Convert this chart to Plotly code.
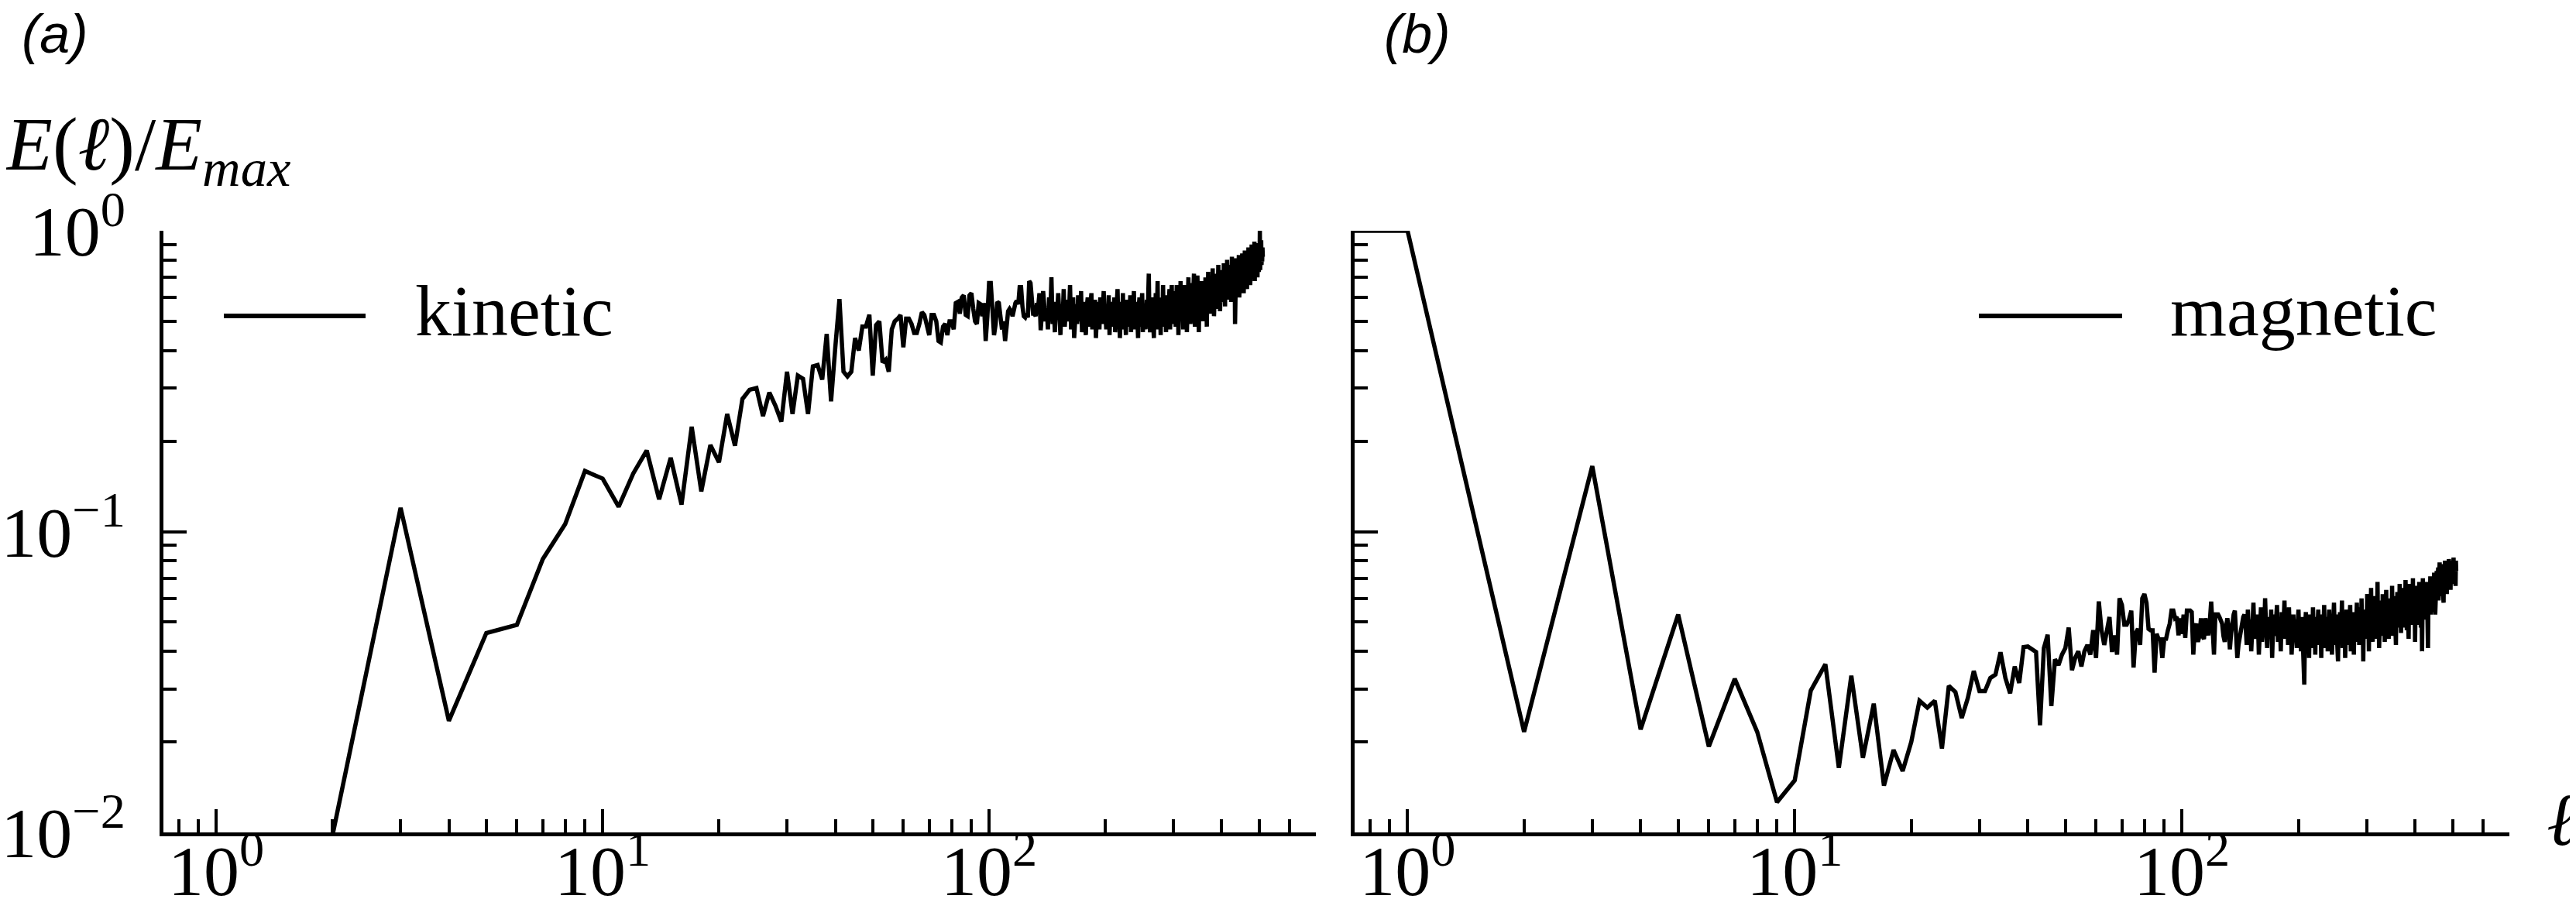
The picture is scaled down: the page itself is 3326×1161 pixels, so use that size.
import math
import plotly.graph_objects as go

# ---------------- data ----------------
ell = list(range(0, 512))

kinetic = (
    [0.0, 0.0001, 0.0098, 0.12, 0.0235, 0.046, 0.049, 0.081, 0.106, 0.159]
    + [0.150, 0.121, 0.156, 0.186, 0.128, 0.176, 0.123, 0.223, 0.136, 0.194]
    + [0.170, 0.246, 0.193, 0.276, 0.296, 0.300, 0.242, 0.290, 0.262, 0.232]
    + [0.340, 0.246, 0.330, 0.322, 0.246, 0.354, 0.358, 0.320, 0.454, 0.271]
    + [0.410, 0.593, 0.340, 0.328, 0.340, 0.440, 0.400, 0.480, 0.480, 0.526]
    + [0.330, 0.486, 0.500, 0.365, 0.373, 0.340, 0.470, 0.500, 0.510, 0.524]
    + [0.410, 0.51, 0.51, 0.49, 0.457, 0.457, 0.49, 0.536, 0.525, 0.48]
    + [0.45, 0.525, 0.525, 0.50, 0.43, 0.425, 0.48, 0.49, 0.45, 0.50]
    + [0.50, 0.47, 0.575, 0.58, 0.53, 0.60, 0.61, 0.525, 0.52, 0.61]
    + [0.62, 0.55, 0.50, 0.49, 0.575, 0.57, 0.52, 0.575, 0.43, 0.52]
    + [0.67, 0.67, 0.56, 0.45, 0.49, 0.58, 0.575, 0.52, 0.47, 0.50]
    + [0.43, 0.48, 0.54, 0.55, 0.54, 0.52, 0.55, 0.575, 0.585, 0.57]
    + [0.65, 0.65, 0.56, 0.52, 0.515, 0.53, 0.515, 0.68, 0.67, 0.61]
    + [0.53, 0.53, 0.52, 0.575, 0.56, 0.62, 0.467, 0.53, 0.63, 0.56]
    + [0.50]
    + [0.55, 0.47, 0.60, 0.52, 0.70, 0.49, 0.56, 0.46, 0.58, 0.53]
    + [0.62, 0.50, 0.45, 0.57, 0.51, 0.64, 0.48, 0.55, 0.59, 0.50]
    + [0.53, 0.66, 0.47, 0.54, 0.60, 0.44, 0.52, 0.57, 0.49, 0.61]
    + [0.55, 0.50, 0.63, 0.46, 0.53, 0.58, 0.51, 0.45, 0.56, 0.60]
    + [0.52, 0.48, 0.57, 0.62, 0.47, 0.54, 0.50, 0.59, 0.44, 0.55]
    + [0.58, 0.51, 0.47, 0.60, 0.53, 0.49, 0.56, 0.63, 0.50, 0.54]
    + [0.47, 0.57, 0.52, 0.61, 0.45, 0.55, 0.50, 0.58, 0.48, 0.53]
    + [0.60, 0.46, 0.54, 0.51, 0.64, 0.49, 0.56, 0.44, 0.53, 0.58]
    + [0.50, 0.62, 0.47, 0.55, 0.52, 0.45, 0.59, 0.51, 0.56, 0.48]
    + [0.54, 0.61, 0.46, 0.57, 0.50, 0.53, 0.63, 0.47, 0.55, 0.49]
    + [0.58, 0.52, 0.44, 0.56, 0.60, 0.48, 0.54, 0.51, 0.62, 0.46]
    + [0.55, 0.50, 0.57, 0.47, 0.53, 0.59, 0.49, 0.64, 0.72, 0.52]
    + [0.46, 0.56, 0.51, 0.60, 0.48, 0.54, 0.44, 0.58, 0.52, 0.62]
    + [0.49, 0.55, 0.68, 0.47, 0.57, 0.51, 0.53, 0.45, 0.60, 0.54]
    + [0.50, 0.66, 0.48, 0.56, 0.52, 0.59, 0.46, 0.55, 0.61, 0.50]
    + [0.57, 0.53, 0.64, 0.47, 0.58, 0.52, 0.66, 0.49, 0.55, 0.60]
    + [0.51, 0.58, 0.63, 0.48, 0.56, 0.66, 0.53, 0.59, 0.45, 0.57]
    + [0.62, 0.52, 0.68, 0.55, 0.50, 0.64, 0.57, 0.47, 0.60, 0.54]
    + [0.66, 0.51, 0.58, 0.62, 0.46, 0.60, 0.55, 0.70, 0.53, 0.57]
    + [0.63, 0.49, 0.59, 0.56, 0.67, 0.52, 0.61, 0.57, 0.72, 0.54]
    + [0.48, 0.60, 0.65, 0.55, 0.58, 0.71, 0.53, 0.62, 0.46, 0.59]
    + [0.64, 0.57, 0.52, 0.68, 0.60, 0.55, 0.63, 0.50, 0.66, 0.58]
    + [0.61, 0.54, 0.70, 0.57, 0.62, 0.48, 0.65, 0.59, 0.73, 0.56]
    + [0.60, 0.66, 0.53, 0.63, 0.58, 0.69, 0.55, 0.62, 0.75, 0.59]
    + [0.64, 0.52, 0.67, 0.61, 0.72, 0.57, 0.65, 0.60, 0.70, 0.55]
    + [0.63, 0.77, 0.58, 0.66, 0.61, 0.54, 0.69, 0.64, 0.74, 0.60]
    + [0.67, 0.58, 0.72, 0.63, 0.78, 0.60, 0.69, 0.56, 0.74, 0.65]
    + [0.70, 0.62, 0.80, 0.59, 0.68, 0.73, 0.64, 0.77, 0.61, 0.71]
    + [0.66, 0.75, 0.58, 0.70, 0.82, 0.63, 0.72, 0.68, 0.60, 0.76]
    + [0.69, 0.79, 0.49, 0.73, 0.66, 0.81, 0.64, 0.71, 0.77, 0.62]
    + [0.74, 0.68, 0.83, 0.60, 0.72, 0.78, 0.65, 0.80, 0.70, 0.63]
    + [0.76, 0.84, 0.67, 0.73, 0.79, 0.62, 0.75, 0.71, 0.86, 0.66]
    + [0.72, 0.80, 0.69, 0.77, 0.64, 0.82, 0.74, 0.70, 0.88, 0.67]
    + [0.78, 0.73, 0.84, 0.66, 0.80, 0.76, 0.71, 0.90, 0.69, 0.79]
    + [0.74, 0.86, 0.70, 0.82, 0.77, 0.92, 0.68, 0.80, 0.75, 0.87]
    + [0.72, 0.84, 0.79, 0.91, 0.70, 0.83, 0.76, 0.89, 0.73, 0.81]
    + [0.78, 1.00, 0.74, 0.86, 0.80, 0.93, 0.77, 0.84, 0.79, 0.88, 0.82]
)

magnetic = (
    [1.0, 1.0, 0.0216, 0.165, 0.022, 0.053, 0.0193, 0.0324, 0.0216, 0.0126]
    + [0.0149, 0.0296, 0.0362, 0.0164, 0.0332, 0.0177, 0.0268, 0.0143, 0.0188, 0.016]
    + [0.020, 0.0274, 0.026, 0.0274, 0.019, 0.0307, 0.0293, 0.024, 0.028, 0.0344]
    + [0.0295, 0.0295, 0.0326, 0.0335, 0.0397, 0.0326, 0.029, 0.0356, 0.0314, 0.0413]
    + [0.0415, 0.0405, 0.0398, 0.0227, 0.041, 0.0454, 0.0263, 0.0376, 0.036, 0.039]
    + [0.041, 0.048, 0.0346, 0.038, 0.040, 0.0356, 0.040, 0.042, 0.039, 0.047]
    + [0.038, 0.0586, 0.047, 0.042, 0.048, 0.052, 0.0398, 0.0452, 0.039, 0.060]
    + [0.057, 0.049, 0.049, 0.051, 0.0546, 0.0353, 0.046, 0.0475, 0.042, 0.060]
    + [0.062, 0.058, 0.0475, 0.047, 0.047, 0.034, 0.0457, 0.044, 0.0439, 0.038]
    + [0.0439, 0.044, 0.047, 0.0494, 0.0546, 0.0546, 0.0515, 0.052, 0.0452, 0.0515]
    + [0.0457, 0.053, 0.0443, 0.0546, 0.0546, 0.0546, 0.054, 0.039, 0.048, 0.0494]
    + [0.043, 0.045, 0.0515, 0.045, 0.0439, 0.0515, 0.048, 0.0452, 0.050, 0.0585]
    + [0.048, 0.039, 0.053, 0.053, 0.053, 0.052, 0.051, 0.0494, 0.045, 0.043]
    + [0.048, 0.0515, 0.048, 0.0406, 0.046, 0.0515, 0.053, 0.0546, 0.045, 0.038]
    + [0.042, 0.0444, 0.0457, 0.050, 0.052, 0.053]
    + [0.049, 0.042, 0.055, 0.045, 0.051, 0.040, 0.047, 0.058, 0.044, 0.050]
    + [0.046, 0.053, 0.039, 0.048, 0.056, 0.043, 0.050, 0.045, 0.060, 0.047]
    + [0.041, 0.052, 0.048, 0.044, 0.055, 0.038, 0.049, 0.053, 0.045, 0.050]
    + [0.057, 0.043, 0.047, 0.051, 0.040, 0.054, 0.046, 0.049, 0.059, 0.044]
    + [0.048, 0.052, 0.042, 0.056, 0.045, 0.050, 0.039, 0.047, 0.053, 0.044]
    + [0.051, 0.046, 0.041, 0.049, 0.055, 0.043, 0.047, 0.040, 0.052, 0.045]
    + [0.036, 0.031, 0.048, 0.054, 0.042, 0.046, 0.050, 0.038, 0.053, 0.044]
    + [0.047, 0.041, 0.056, 0.045, 0.049, 0.039, 0.052, 0.043, 0.048, 0.055]
    + [0.042, 0.046, 0.050, 0.038, 0.053, 0.044, 0.047, 0.057, 0.041, 0.049]
    + [0.045, 0.052, 0.040, 0.048, 0.055, 0.043, 0.046, 0.051, 0.039, 0.050]
    + [0.044, 0.058, 0.047, 0.042, 0.053, 0.045, 0.049, 0.037, 0.051, 0.046]
    + [0.054, 0.043, 0.048, 0.059, 0.041, 0.050, 0.045, 0.052, 0.038, 0.047]
    + [0.055, 0.044, 0.049, 0.042, 0.051, 0.046, 0.057, 0.040, 0.048, 0.053]
    + [0.045, 0.050, 0.039, 0.054, 0.047, 0.043, 0.052, 0.058, 0.044, 0.049]
    + [0.056, 0.042, 0.048, 0.051, 0.046, 0.060, 0.043, 0.050, 0.037, 0.053]
    + [0.047, 0.055, 0.044, 0.051, 0.049, 0.062, 0.045, 0.053, 0.040, 0.056]
    + [0.048, 0.052, 0.065, 0.046, 0.054, 0.043, 0.058, 0.050, 0.047, 0.061]
    + [0.044, 0.055, 0.049, 0.052, 0.068, 0.046, 0.057, 0.041, 0.053, 0.050]
    + [0.059, 0.047, 0.054, 0.045, 0.062, 0.051, 0.048, 0.056, 0.043, 0.053]
    + [0.050, 0.064, 0.046, 0.055, 0.052, 0.058, 0.044, 0.060, 0.049, 0.054]
    + [0.047, 0.057, 0.051, 0.066, 0.045, 0.056, 0.053, 0.048, 0.061, 0.050]
    + [0.055, 0.042, 0.059, 0.052, 0.063, 0.048, 0.057, 0.054, 0.050, 0.067]
    + [0.051, 0.058, 0.046, 0.062, 0.055, 0.049, 0.060, 0.053, 0.065, 0.048]
    + [0.057, 0.052, 0.069, 0.050, 0.059, 0.047, 0.063, 0.055, 0.058, 0.044]
    + [0.061, 0.054, 0.067, 0.051, 0.058, 0.064, 0.049, 0.060, 0.056, 0.070]
    + [0.050, 0.058, 0.053, 0.062, 0.043, 0.055, 0.066, 0.051, 0.059, 0.054]
    + [0.063, 0.049, 0.057, 0.053, 0.068, 0.052, 0.060, 0.056, 0.048, 0.064]
    + [0.055, 0.040, 0.058, 0.070, 0.052, 0.059, 0.054, 0.066, 0.057, 0.062]
    + [0.051, 0.060, 0.056, 0.068, 0.054, 0.063, 0.041, 0.058, 0.065, 0.055]
    + [0.061, 0.057, 0.071, 0.053, 0.063, 0.059, 0.067, 0.054, 0.070, 0.058]
    + [0.064, 0.056, 0.073, 0.060, 0.066, 0.053, 0.062, 0.069, 0.057, 0.074]
    + [0.063, 0.069, 0.065, 0.076, 0.059, 0.072, 0.067, 0.079, 0.062, 0.070]
    + [0.066, 0.075, 0.061, 0.071, 0.068, 0.078, 0.064, 0.073, 0.058, 0.076]
    + [0.067, 0.072, 0.080, 0.065, 0.074, 0.069, 0.077, 0.062, 0.075, 0.070]
    + [0.078, 0.066, 0.073, 0.081, 0.068, 0.076, 0.071, 0.079, 0.064, 0.074]
    + [0.069, 0.077, 0.072, 0.080, 0.067, 0.075, 0.070, 0.082, 0.068, 0.076]
    + [0.071, 0.079, 0.073, 0.066, 0.080, 0.074]
)

x_major = [1, 10, 100]
x_major_text = ["10<sup>0</sup>", "10<sup>1</sup>", "10<sup>2</sup>"]
y_major = [0.01, 0.1, 1]
y_major_text = ["10<sup>\u22122</sup>", "10<sup>\u22121</sup>", "10<sup>0</sup>"]
x_minor = [0.8, 0.9, 2, 3, 4, 5, 6, 7, 8, 9,
           20, 30, 40, 50, 60, 70, 80, 90, 200, 300, 400, 500, 600]
y_minor = [0.02, 0.03, 0.04, 0.05, 0.06, 0.07, 0.08, 0.09,
           0.2, 0.3, 0.4, 0.5, 0.6, 0.7, 0.8, 0.9]
panel_labels = ["(a)", "(b)"]
legend_labels = ["kinetic", "magnetic"]

# matplotlib-style clipping of non-positive values on log axes
CLIP = 1e-3
def clip(vals):
    return [v if v > 0 else CLIP for v in vals]

# ---------------- geometry ----------------
W, H = 3326, 1161
L, R, T, B = 203, 94, 290, 94
PW, PH = W - L - R, H - T - B

def px(x):
    return (x - L) / PW

def py(y):
    return (H - B - y) / PH

SERIF = "Liberation Serif"
SANS = "Liberation Sans"
TICKFONT = dict(family=SERIF, size=92, color="black")

def xaxis_style(domain):
    return dict(
        type="log", range=[math.log10(0.73), math.log10(701)], domain=domain,
        automargin=False,
        showline=True, linewidth=4.5, linecolor="black", mirror=False,
        ticks="inside", ticklen=30, tickwidth=4, tickcolor="black",
        tickmode="array", tickvals=x_major, ticktext=x_major_text,
        ticklabelstandoff=-34,
        tickfont=TICKFONT, showgrid=False, zeroline=False,
        minor=dict(ticks="inside", ticklen=17, tickwidth=4, tickcolor="black",
                   tickmode="array", tickvals=x_minor, showgrid=False),
    )

def yaxis_style(show_labels):
    return dict(
        type="log", range=[-2, 0], automargin=False,
        showline=True, linewidth=4.5, linecolor="black", mirror=False,
        ticks="inside", ticklen=30, tickwidth=4, tickcolor="black",
        tickmode="array", tickvals=y_major, ticktext=y_major_text,
        showticklabels=show_labels, ticklabelstandoff=26,
        tickfont=TICKFONT, showgrid=False, zeroline=False,
        minor=dict(ticks="inside", ticklen=17, tickwidth=4, tickcolor="black",
                   tickmode="array", tickvals=y_minor, showgrid=False),
    )

fig = go.Figure()
fig.add_trace(go.Scatter(x=clip(ell), y=clip(kinetic), mode="lines",
                         line=dict(color="black", width=5.5),
                         xaxis="x", yaxis="y", showlegend=False,
                         name=legend_labels[0]))
fig.add_trace(go.Scatter(x=clip(ell), y=clip(magnetic), mode="lines",
                         line=dict(color="black", width=5.5),
                         xaxis="x2", yaxis="y2", showlegend=False,
                         name=legend_labels[1]))

xa = xaxis_style([0, px(1691)])
xa["anchor"] = "y"
xb = xaxis_style([px(1741), 1])
xb["anchor"] = "y2"
ya = yaxis_style(True)
ya["anchor"] = "x"
yb = yaxis_style(False)
yb["anchor"] = "x2"

annotations = [
    dict(text=panel_labels[0], x=px(18), y=py(36), xanchor="left", yanchor="middle",
         font=dict(family=SANS, size=70, color="black", style="italic")),
    dict(text=panel_labels[1], x=px(1777), y=py(36), xanchor="left", yanchor="middle",
         font=dict(family=SANS, size=70, color="black", style="italic")),
    dict(text="<i>E</i>(<i>\u2113</i>)/<i>E</i><sub><i>max</i></sub>",
         x=px(-4), y=py(186), xanchor="left", yanchor="middle",
         font=dict(family=SERIF, size=98, color="black")),
    dict(text=legend_labels[0], x=px(526), y=py(393), xanchor="left", yanchor="middle",
         font=dict(family=SERIF, size=94, color="black")),
    dict(text=legend_labels[1], x=px(2792), y=py(393), xanchor="left", yanchor="middle",
         font=dict(family=SERIF, size=94, color="black")),
    dict(text="<i>\u2113</i>", x=px(3322), y=py(1050), xanchor="right", yanchor="middle",
         font=dict(family=SERIF, size=96, color="black")),
]
for a in annotations:
    a.update(xref="paper", yref="paper", showarrow=False)

shapes = [
    dict(type="line", xref="paper", yref="paper", x0=px(281), x1=px(464),
         y0=py(400), y1=py(400), line=dict(color="black", width=6)),
    dict(type="line", xref="paper", yref="paper", x0=px(2547), x1=px(2732),
         y0=py(400), y1=py(400), line=dict(color="black", width=6)),
]

fig.update_layout(
    width=W, height=H,
    margin=dict(l=L, r=R, t=T, b=B, pad=0, autoexpand=False),
    paper_bgcolor="white", plot_bgcolor="white",
    xaxis=xa, yaxis=ya, xaxis2=xb, yaxis2=yb,
    annotations=annotations, shapes=shapes,
    showlegend=False,
)

fig.write_html("out.html")
